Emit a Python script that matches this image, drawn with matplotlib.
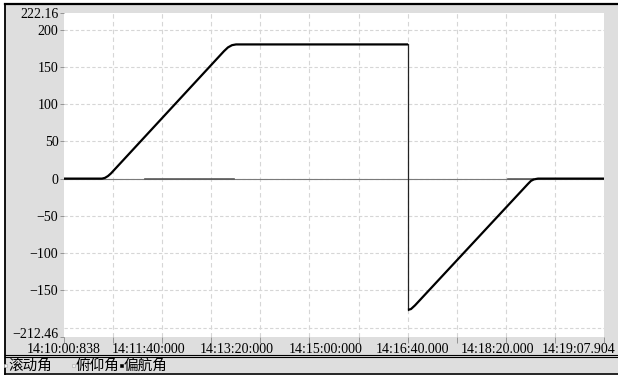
import matplotlib
matplotlib.use("Agg")
import matplotlib.pyplot as plt
import matplotlib.transforms as mtransforms
import numpy as np
from matplotlib.lines import Line2D
from matplotlib.patches import Rectangle

# time axis: seconds after 14:10:00.838, full span up to 14:19:07.904
t_end = 547.066

# 偏航角 (yaw) - thick black curve
yaw_t = [0, 38.5, 41.5, 44.6, 47.6, 162.1, 166.1, 170.2, 174.3, 348.5]
yaw_v = [0, 0, 1, 3.5, 7, 171, 176, 179, 180, 180]
yaw2_t = [348.5, 351.5, 355.6, 470.1, 473.1, 476.1, 480.2, 547.066]
yaw2_v = [-176, -175, -170, -7, -3, -1, 0, 0]

# 滚动角 (roll) and 俯仰角 (pitch) - stay near zero
roll_t = [0, 547.066]
roll_v = [0, 0]
pitch_t = [82.1, 172.2, np.nan, 449.8, 475.1]
pitch_v = [-0.7, -0.7, np.nan, -0.7, -0.7]

ytick_vals = [222.16, 200, 150, 100, 50, 0, -50, -100, -150, -212.46]
ytick_labels = ["222.16", "200", "150", "100", "50", "0", "\u221250", "\u2212100", "\u2212150", "\u2212212.46"]
ygrid_vals = [200, 150, 100, 50, 0, -50, -100, -150, -200]

xlabel_pos = [0, 86.1, 175.3, 265.4, 352.6, 438.7, 521.7]
xlabel_text = ["14:10:00:838", "14:11:40:000", "14:13:20:000", "14:15:00:000",
               "14:16:40.000", "14:18:20.000", "14:19:07.904"]
n_grid = 11

legend_names = ["滚动角", "俯仰角", "偏航角"]
legend_colors = ["#f2f2f2", "#f2f2f2", "#000000"]

W, H = 618, 379
fig = plt.figure(figsize=(W / 100, H / 100), dpi=100)
fig.patch.set_facecolor("white")

def fx(x):
    return x / W

def fy(y):
    return 1 - y / H

# gray panel and frame
fig.add_artist(Rectangle((fx(5), fy(373)), fx(613), 369 / H, transform=fig.transFigure,
                         facecolor="#dedede", edgecolor="none", zorder=-1))
for (x0, y0, x1, y1, lw) in [(5, 4, 618, 4, 1.6), (5, 4, 5, 374, 1.3),
                             (5, 354.5, 618, 354.5, 0.8), (5, 357, 618, 357, 0.8),
                             (5, 373.5, 618, 373.5, 1.2)]:
    fig.add_artist(Line2D([fx(x0), fx(x1)], [fy(y0), fy(y1)], transform=fig.transFigure,
                          color="black", lw=lw, zorder=5))

ax = fig.add_axes([fx(64), fy(337), fx(540), 324 / H])
ax.set_facecolor("white")
for s in ax.spines.values():
    s.set_visible(False)

ax.set_xlim(0, t_end)
ax.set_ylim(-212.46, 222.16)

# grid
grid_x = np.linspace(0, t_end, n_grid + 1)
for gx in grid_x[1:-1]:
    ax.axvline(gx, color="#d6d6d6", lw=0.8, ls=(0, (4, 3)), zorder=0)
for gy in ygrid_vals:
    ax.axhline(gy, color="#d6d6d6", lw=0.8, ls=(0, (3, 2)), zorder=0)

# series
ax.plot(roll_t, roll_v, color="#7a7a7a", lw=0.8, zorder=2)
ax.plot(pitch_t, pitch_v, color="#5a5a5a", lw=1.2, zorder=2)
ax.plot(yaw_t, yaw_v, color="black", lw=1.6, zorder=3, solid_capstyle="butt")
ax.plot([yaw_t[-1], yaw2_t[0]], [yaw_v[-1], yaw2_v[0]], color="#222222", lw=0.9, zorder=3)
ax.plot(yaw2_t, yaw2_v, color="black", lw=1.6, zorder=3, solid_capstyle="butt")

# ticks
tick_font = {"family": "Liberation Serif", "size": 10}
ax.set_yticks(ytick_vals)
ax.set_yticklabels(ytick_labels, fontdict=tick_font)
ax.tick_params(axis="y", length=3, width=0.6, color="#888888", pad=1)
# lowest label sits a little above the bottom edge, as in the source
ylabs = ax.get_yticklabels()
ylabs[-1].set_transform(ylabs[-1].get_transform() +
                        mtransforms.ScaledTranslation(0, 4 / 100, fig.dpi_scale_trans))

ax.set_xticks(xlabel_pos)
ax.set_xticklabels(xlabel_text, fontdict=tick_font)
ax.set_xticks(grid_x, minor=True)
ax.xaxis.remove_overlapping_locs = False
ax.tick_params(axis="x", which="major", length=0, pad=4)
ax.tick_params(axis="x", which="minor", length=4, width=0.6, color="#888888")

# legend row
lx = [8, 76, 124]
for x, name, c in zip(lx, legend_names, legend_colors):
    fig.add_artist(Rectangle((fx(x - 4), fy(367)), fx(3), 3 / H, transform=fig.transFigure,
                             facecolor=c, edgecolor="#aaaaaa" if c != "#000000" else "black",
                             lw=0.4, zorder=6))
    fig.text(fx(x), fy(365.5), name, fontsize=10.5, va="center", ha="left",
             family=["Noto Sans CJK SC", "DejaVu Sans"])

fig.savefig("out.png", dpi=100)
